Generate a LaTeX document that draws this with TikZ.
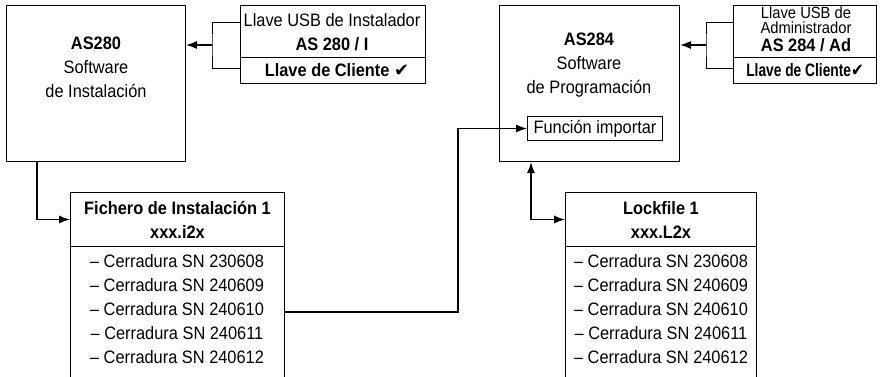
\documentclass[tikz,border=0pt]{standalone}
\usepackage{fontspec}
\usepackage{graphicx}
\setmainfont{Liberation Sans}[FakeStretch=0.91]
\newfontfamily\symfont{DejaVu Sans}
\usetikzlibrary{arrows.meta}

\tikzset{
  box/.style={draw,line width=1pt,inner sep=0pt,anchor=north west},
  txt/.style={inner sep=0pt,align=center},
  conn/.style={line width=1.3pt,-{Latex[length=11pt,width=8pt]}},
  both/.style={line width=1.3pt,{Latex[length=11pt,width=8pt]}-{Latex[length=11pt,width=8pt]}},
  brk/.style={line width=1pt}
}

\begin{document}
\begin{tikzpicture}[x=1pt,y=-1pt,font=\fontsize{18}{24}\selectfont]
\useasboundingbox (0,0) rectangle (894,376);
\clip (0,0) rectangle (894,376);

% software
\node[box,minimum width=179,minimum height=156] (as280) at (6,5) {};
\node[txt] (as280t) at (96,67) {\textbf{AS280}\\Software\\de Instalación};
\node[box,minimum width=180,minimum height=156] (as284) at (499,5) {};
\node[txt] (as284t) at (589,65) {\textbf{AS284}\\Software\\de Programación};
\node[box,minimum width=135,minimum height=24] (fn) at (527,116) {};
\node[txt] (fnt) at (fn.center) {Función importar};

% llaves
\node[box,minimum width=185,minimum height=52] (keyA) at (240,5) {};
\node[box,minimum width=185,minimum height=26] (keyB) at (240,57) {};
\node[txt] (keyAt) at (332,32) {Llave USB de Instalador\\\textbf{AS 280 / I}};
\node[txt] (keyBt) at (337,70) {\textbf{Llave de Cliente} {\symfont ✔}};

\node[box,minimum width=143,minimum height=52] (keyC) at (733,5) {};
\node[box,minimum width=143,minimum height=26] (keyD) at (733,57) {};
\node[txt,font=\fontsize{16.2}{15.5}\selectfont] (keyCt) at (806,20) {Llave USB de\\Administrador};
\node[txt] (keyCb) at (806,45) {\textbf{AS 284 / Ad}};
\node[txt] (keyDt) at (805,70) {\scalebox{0.84}[1]{\textbf{Llave de Cliente}{\symfont ✔}}};

% ficheros
\node[box,minimum width=214,minimum height=54] (fhead) at (70,192) {};
\node[txt] (fheadt) at (fhead.center) {\textbf{Fichero de Instalación 1}\\\textbf{xxx.i2x}};
\node[box,minimum width=214,minimum height=140] (flist) at (70,246) {};
\node[txt] (flistt) at (177,309) {– Cerradura SN 230608\\– Cerradura SN 240609\\– Cerradura SN 240610\\– Cerradura SN 240611\\– Cerradura SN 240612};

\node[box,minimum width=191,minimum height=54] (lhead) at (565,192) {};
\node[txt] (lheadt) at (lhead.center) {\textbf{Lockfile 1}\\\textbf{xxx.L2x}};
\node[box,minimum width=191,minimum height=140] (llist) at (565,246) {};
\node[txt] (llistt) at (661,309) {– Cerradura SN 230608\\– Cerradura SN 240609\\– Cerradura SN 240610\\– Cerradura SN 240611\\– Cerradura SN 240612};

% conexiones
\coordinate (k1) at (212,45);
\coordinate (k2) at (706,45);
\coordinate (turn) at (458,312);

\draw[brk] (keyA.west |- 0,22) -| (k1) |- (keyB.west |- 0,68);
\draw[conn] (k1) -- (as280.east |- k1);
\draw[brk] (keyC.west |- 0,22) -| (k2) |- (keyD.west |- 0,68);
\draw[conn] (k2) -- (as284.east |- k2);

\draw[conn] (as280.south -| 37,0) |- (fhead.west);
\draw[conn] (flist.east |- turn) -- (turn) |- (fn.west);
\draw[both] (as284.south -| 531,0) |- (lhead.west);
\end{tikzpicture}
\end{document}
